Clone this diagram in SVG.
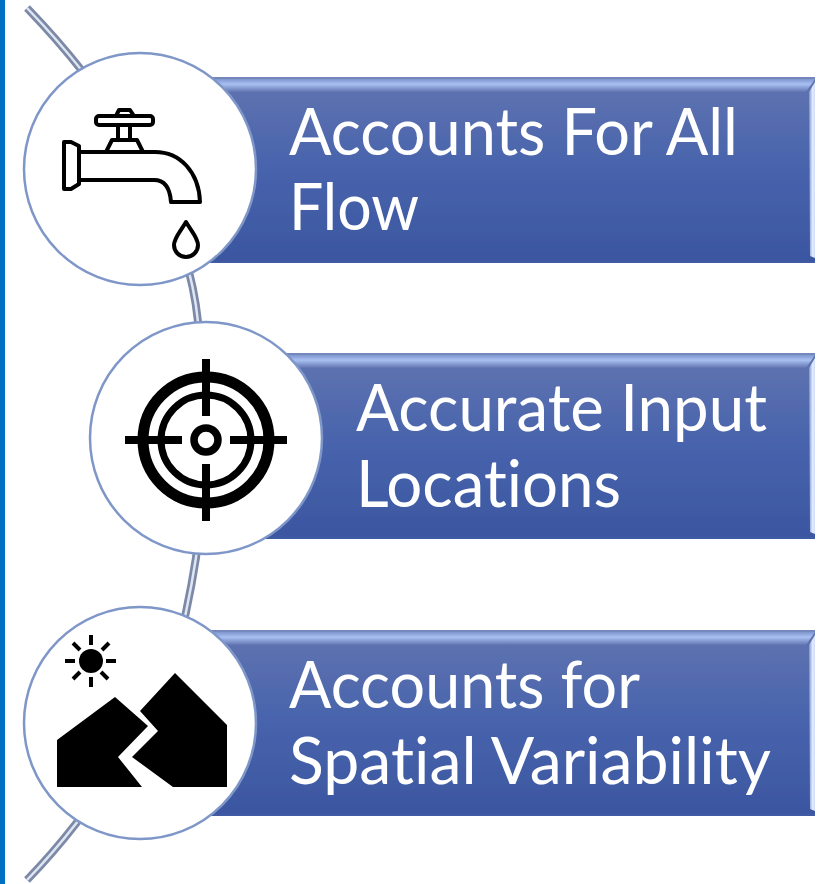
<svg xmlns="http://www.w3.org/2000/svg" width="823" height="884" viewBox="0 0 823 884">
<style>
.t{font-family:"Lato","Liberation Sans",sans-serif;font-size:65px;fill:#fff;font-variant-ligatures:none}
.c{fill:#fff;stroke:#7f97c8;stroke-width:2.5}
.k{fill:none;stroke:#000;stroke-linejoin:round}
</style>
<defs>
<filter id="s" x="0" y="0" width="100%" height="100%"><feGaussianBlur stdDeviation="0.55"/></filter>
<linearGradient id="g" x1="0" y1="0" x2="0" y2="1"><stop offset="0" stop-color="#6174b0"/><stop offset="0.5" stop-color="#4763ac"/><stop offset="1" stop-color="#3c56a0"/></linearGradient>
<linearGradient id="h" x1="0" y1="0" x2="0" y2="1"><stop offset="0" stop-color="#7f95cf"/><stop offset="0.4" stop-color="#a9c0f2"/><stop offset="1" stop-color="#6174b0"/></linearGradient>
<linearGradient id="r" x1="0" y1="0" x2="1" y2="0"><stop offset="0" stop-color="#7f95d0"/><stop offset="0.6" stop-color="#e4edff"/><stop offset="1" stop-color="#cfdcf8"/></linearGradient>
<g id="bar">
<rect x="190" y="0" width="625" height="186" fill="url(#g)"/>
<rect x="190" y="0" width="625" height="2" fill="#7488bc"/>
<path d="M190 2H815L806 15H190Z" fill="url(#h)"/>
<path d="M809 15L815 5V181L810 179Z" fill="url(#r)"/>
<rect x="190" y="184" width="625" height="2" fill="#3f5aa3"/>
</g>
</defs>
<g filter="url(#s)">
<rect width="823" height="884" fill="#fff"/>
<rect width="5" height="884" fill="#0070c0"/>
<g id="connectors" fill="none">
<path d="M27 8C85 68 185 190 198 322C208 420 210 500 186 612C170 700 90 815 27 880" stroke="#7c8aa8" stroke-width="8"/>
<path d="M27 8C85 68 185 190 198 322C208 420 210 500 186 612C170 700 90 815 27 880" stroke="#dfe6f2" stroke-width="2.5"/>
</g>
<g id="node1">
<use href="#bar" y="77"/>
<circle class="c" cx="140" cy="169" r="116"/>
<g class="k" stroke-width="4">
<path d="M64 142H71L79 146V184L71 189H64Z"/>
<path d="M79 152H155C180 152 199 172 200 202H171C170 188 165 180 154 180H79"/>
<path d="M106 152L112 140H137L143 152"/>
<path d="M118 140V125M130 140V125"/>
<rect x="96" y="116" width="57" height="9" rx="3"/>
<path d="M116 116L119 110H130L134 116"/>
<path d="M186 222C180 232 174 238 174 245A12 12 0 0 0 198 245C198 238 192 232 186 222Z"/>
</g>
<text class="t" x="289" y="155" textLength="449" lengthAdjust="spacingAndGlyphs">Accounts For All</text>
<text class="t" x="289" y="230" textLength="130" lengthAdjust="spacingAndGlyphs">Flow</text>
</g>
<g id="node2">
<use href="#bar" y="353"/>
<circle class="c" cx="206" cy="438" r="116"/>
<g class="k">
<circle cx="206" cy="440" r="63" stroke-width="11"/>
<circle cx="206" cy="440" r="45" stroke-width="7"/>
<circle cx="206" cy="440" r="12" stroke-width="7.5"/>
<path d="M206 359V416M206 464V521M125 440H182M230 440H287" stroke-width="8"/>
</g>
<text class="t" x="356" y="431" textLength="411" lengthAdjust="spacingAndGlyphs">Accurate Input</text>
<text class="t" x="356" y="507" textLength="265" lengthAdjust="spacingAndGlyphs">Locations</text>
</g>
<g id="node3">
<use href="#bar" y="630"/>
<circle class="c" cx="140" cy="723" r="116"/>
<circle cx="91" cy="661" r="12" fill="#000"/>
<path class="k" stroke-width="4" d="M91 635V645M91 677V687M65 661H75M106 661H116M73 643L80 650M101 672L108 679M109 643L102 650M80 672L73 679"/>
<path d="M57 740L115 697L148 726L118 757L142 787H57Z" fill="#000"/>
<path d="M175 673L227 725V787H173L132 757L158 731L140 711Z" fill="#000"/>
<text class="t" x="289" y="708" textLength="351" lengthAdjust="spacingAndGlyphs">Accounts for</text>
<text class="t" x="289" y="784" textLength="482" lengthAdjust="spacingAndGlyphs">Spatial Variability</text>
</g>
</g>
</svg>
